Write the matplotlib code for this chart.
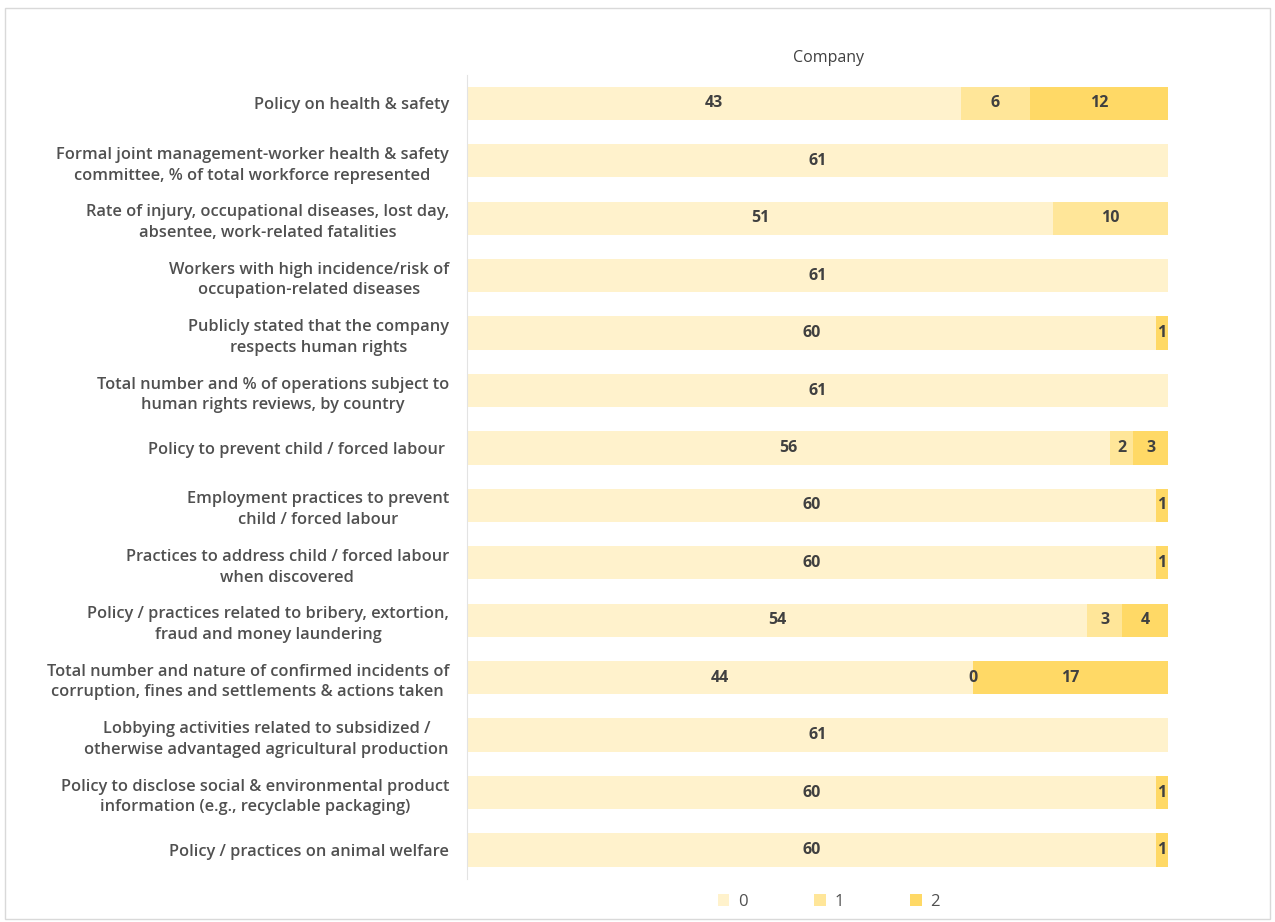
import matplotlib
matplotlib.use("Agg")
import matplotlib.pyplot as plt
import numpy as np
from matplotlib.patches import Rectangle

# score counts per disclosure item (NaN = no data point, 0 = explicit zero)
items = [
    "Policy on health & safety",
    "Formal joint management-worker health & safety\ncommittee, % of total workforce represented",
    "Rate of injury, occupational diseases, lost day,\nabsentee, work-related fatalities",
    "Workers with high incidence/risk of\noccupation-related diseases",
    "Publicly stated that the company\nrespects human rights",
    "Total number and % of operations subject to\nhuman rights reviews, by country",
    "Policy to prevent child / forced labour ",
    "Employment practices to prevent\nchild / forced labour",
    "Practices to address child / forced labour\nwhen discovered",
    "Policy / practices related to bribery, extortion,\nfraud and money laundering",
    "Total number and nature of confirmed incidents of\ncorruption, fines and settlements & actions taken",
    "Lobbying activities related to subsidized /\notherwise advantaged agricultural production",
    "Policy to disclose social & environmental product\ninformation (e.g., recyclable packaging)",
    "Policy / practices on animal welfare",
]
nan = np.nan
score0 = [43, 61, 51, 61, 60, 61, 56, 60, 60, 54, 44, 61, 60, 60]
score1 = [6, nan, 10, nan, nan, nan, 2, nan, nan, 3, 0, nan, nan, nan]
score2 = [12, nan, nan, nan, 1, nan, 3, 1, 1, 4, 17, nan, 1, 1]
series_names = ["0", "1", "2"]
colors = ["#FFF2CC", "#FFE699", "#FFD966"]

label_col = "#505050"
value_col = "#404040"
plt.rcParams["font.family"] = ["Open Sans", "DejaVu Sans"]

fig = plt.figure(figsize=(12.75, 9.22), dpi=100)
ax = fig.add_axes([0.3663, 0.047, 0.5497, 0.872])

y = np.arange(len(items))
left = np.zeros(len(items))
for vals, name, col in zip([score0, score1, score2], series_names, colors):
    v = np.array(vals, dtype=float)
    w = np.nan_to_num(v)
    ax.barh(y, w, left=left, height=0.58, color=col, label=name)
    for yi, (l, val) in enumerate(zip(left, v)):
        if np.isnan(val):
            continue
        ax.text(l + val / 2, yi, f"{int(val)}", ha="center", va="center",
                fontsize=11.5, fontweight="bold", color=value_col)
    left += w

ax.set_xlim(0, 61)
ax.set_ylim(len(items) - 0.5, -0.5)
ax.set_yticks(y)
ax.set_yticklabels(items, fontsize=11.8, color=label_col, fontweight="semibold",
                   multialignment="center", linespacing=1.4)
ax.tick_params(axis="y", length=0, pad=13)
ax.set_xticks([])
for s in ["top", "right", "bottom"]:
    ax.spines[s].set_visible(False)
ax.spines["left"].set_color("#E3E3E3")

fig.text(0.65, 0.937, "Company", ha="center", va="center",
         fontsize=11.5, color=value_col)

fig.legend(loc="center", bbox_to_anchor=(0.65, 0.022), ncol=3, frameon=False,
           fontsize=12, handlelength=0.7, handleheight=0.7, columnspacing=4.0,
           handletextpad=0.5, labelcolor=label_col)

fig.patches.append(Rectangle((0.004, 0.003), 0.992, 0.988, transform=fig.transFigure,
                             fill=False, edgecolor="#D9D9D9", lw=1))

fig.savefig("out.png", dpi=100)
